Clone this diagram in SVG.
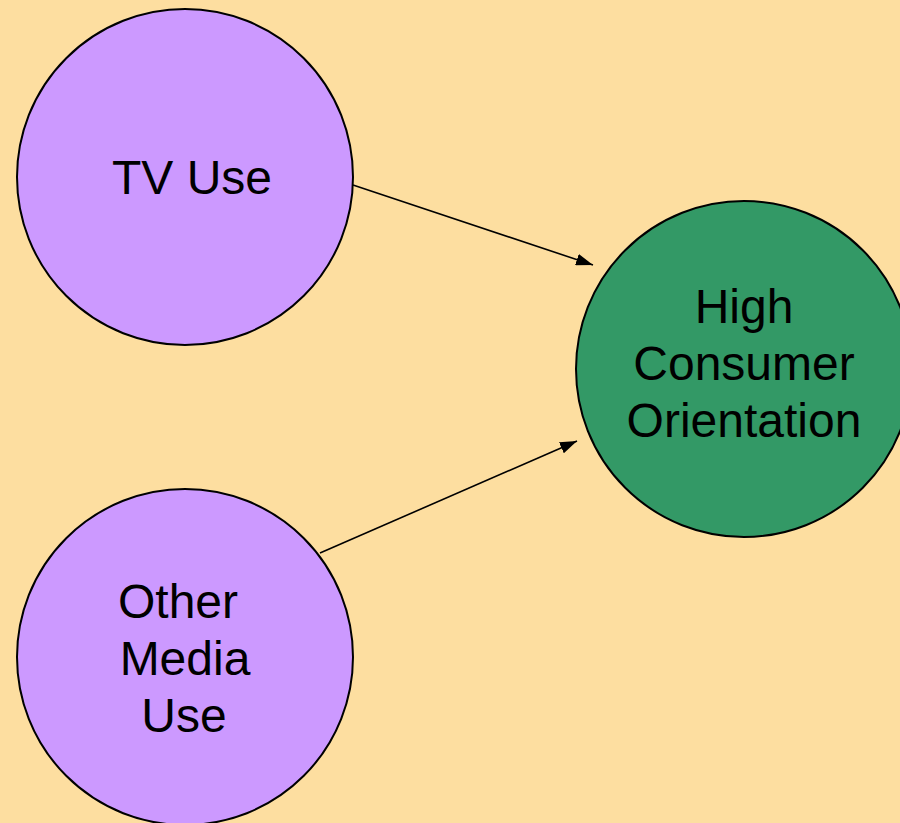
<svg xmlns="http://www.w3.org/2000/svg" width="900" height="823" viewBox="0 0 900 823">
  <style>
    .node { stroke: #000; stroke-width: 2; }
    .media { fill: #CC99FF; }
    .outcome { fill: #339966; }
    .label { font-family: "Liberation Sans", Arial, sans-serif; font-size: 48px; fill: #000; text-anchor: middle; }
    .link { stroke: #000; stroke-width: 1.6; fill: none; marker-end: url(#arrow); }
  </style>
  <defs>
    <!-- filled triangular arrowhead, tip at the end of the line -->
    <marker id="arrow" viewBox="0 0 17 12" refX="17" refY="6" markerWidth="17" markerHeight="12" markerUnits="userSpaceOnUse" orient="auto">
      <path d="M0,0 L17,6 L0,12 Z" fill="#000"/>
    </marker>
  </defs>
  <rect width="900" height="823" fill="#FDDEA0"/>

  <g id="connectors">
    <line class="link" x1="353" y1="185" x2="593" y2="265"/>
    <line class="link" x1="320" y1="553" x2="577" y2="441"/>
  </g>

  <g id="tv-use">
    <circle class="node media" cx="185" cy="177" r="168"/>
    <text class="label" x="192" y="194">TV Use</text>
  </g>

  <g id="other-media-use">
    <circle class="node media" cx="185" cy="657" r="168"/>
    <text class="label" x="178" y="618">Other</text>
    <text class="label" x="185" y="675">Media</text>
    <text class="label" x="184" y="732">Use</text>
  </g>

  <g id="high-consumer-orientation">
    <circle class="node outcome" cx="744" cy="369" r="168"/>
    <text class="label" x="744" y="323">High</text>
    <text class="label" x="744" y="380">Consumer</text>
    <text class="label" x="744" y="437">Orientation</text>
  </g>
</svg>
